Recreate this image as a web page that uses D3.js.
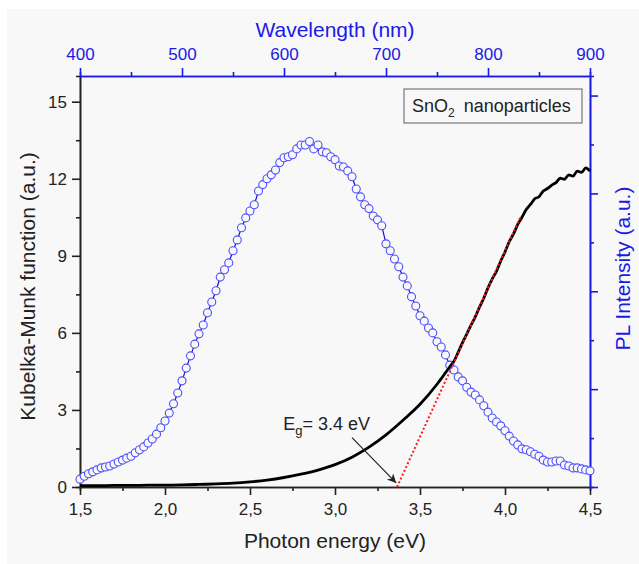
<!DOCTYPE html>
<html>
<head>
<meta charset="utf-8">
<script src="https://cdn.jsdelivr.net/npm/d3@7"></script>
<style>
  body { margin: 0; background: #fff; }
  svg { display: block; font-family: "Liberation Sans", Arial, sans-serif; }
</style>
</head>
<body>
<div id="chart"></div>
<script>
// Kubelka-Munk (absorption) curve, photon energy in eV vs KM value
const kmEnergy = [1.5, 1.6, 1.7, 1.8, 1.9, 2.0, 2.1, 2.2, 2.3, 2.4, 2.5, 2.6, 2.7, 2.8, 2.9, 3.0,
    3.1, 3.2, 3.3, 3.4, 3.5, 3.6, 3.625, 3.65, 3.675, 3.7, 3.725, 3.75, 3.775, 3.8, 3.825, 3.85,
    3.875, 3.9, 3.925, 3.95, 3.975, 4.0, 4.025, 4.05, 4.075, 4.1, 4.125, 4.15, 4.175, 4.2, 4.225,
    4.25, 4.275, 4.3, 4.325, 4.35, 4.375, 4.4, 4.425, 4.45, 4.475, 4.5];
const kmValue = [0.05, 0.05, 0.06, 0.06, 0.07, 0.07, 0.08, 0.1, 0.12, 0.15, 0.2, 0.27, 0.37, 0.5,
    0.66, 0.87, 1.16, 1.55, 2.03, 2.6, 3.22, 4.0, 4.22, 4.45, 4.68, 4.9, 5.25, 5.62, 5.95, 6.3, 6.62,
    7.0, 7.35, 7.75, 8.1, 8.4, 8.8, 9.15, 9.55, 9.85, 10.22, 10.5, 10.8, 11.0, 11.22, 11.3,
    11.52, 11.62, 11.75, 11.85, 12.02, 11.98, 12.15, 12.1, 12.3, 12.25, 12.42, 12.3];

// PL spectrum (open circles), photon energy in eV vs intensity (a.u.)
const plEnergy = [1.5, 1.525, 1.55, 1.575, 1.6, 1.625, 1.65, 1.675, 1.7, 1.725, 1.75, 1.775, 1.8,
    1.825, 1.85, 1.875, 1.9, 1.925, 1.95, 1.975, 2.0, 2.025, 2.05, 2.075, 2.1, 2.125, 2.15, 2.175,
    2.2, 2.225, 2.25, 2.275, 2.3, 2.325, 2.35, 2.375, 2.4, 2.425, 2.45, 2.475, 2.5, 2.525, 2.55,
    2.575, 2.6, 2.625, 2.65, 2.675, 2.7, 2.725, 2.75, 2.775, 2.8, 2.825, 2.85, 2.875, 2.9, 2.925,
    2.95, 2.975, 3.0, 3.025, 3.05, 3.075, 3.1, 3.125, 3.15, 3.175, 3.2, 3.225, 3.25, 3.275, 3.3,
    3.325, 3.35, 3.375, 3.4, 3.425, 3.45, 3.475, 3.5, 3.525, 3.55, 3.575, 3.6, 3.625, 3.65, 3.675,
    3.7, 3.725, 3.75, 3.775, 3.8, 3.825, 3.85, 3.875, 3.9, 3.925, 3.95, 3.975, 4.0, 4.025, 4.05,
    4.075, 4.1, 4.125, 4.15, 4.175, 4.2, 4.225, 4.25, 4.275, 4.3, 4.325, 4.35, 4.375, 4.4, 4.425,
    4.45, 4.475, 4.5];
const plValue = [0.16, 0.22, 0.27, 0.31, 0.35, 0.39, 0.41, 0.43, 0.47, 0.51, 0.55, 0.59, 0.63,
    0.70, 0.76, 0.82, 0.90, 0.98, 1.08, 1.21, 1.35, 1.51, 1.70, 1.92, 2.17, 2.43, 2.68, 2.92,
    3.13, 3.31, 3.56, 3.78, 4.01, 4.29, 4.44, 4.58, 4.83, 5.05, 5.30, 5.50, 5.64, 5.77, 6.05,
    6.18, 6.30, 6.38, 6.48, 6.63, 6.73, 6.75, 6.79, 6.91, 6.99, 6.99, 7.06, 6.91, 6.99, 6.85,
    6.83, 6.75, 6.69, 6.56, 6.54, 6.46, 6.34, 6.09, 5.93, 5.77, 5.69, 5.54, 5.46, 5.34, 4.97,
    4.83, 4.66, 4.50, 4.29, 4.11, 3.89, 3.70, 3.50, 3.39, 3.25, 3.15, 2.97, 2.86, 2.70, 2.49,
    2.39, 2.25, 2.17, 2.04, 1.94, 1.88, 1.78, 1.66, 1.53, 1.41, 1.33, 1.25, 1.15, 1.04, 0.94,
    0.86, 0.78, 0.76, 0.72, 0.67, 0.63, 0.55, 0.51, 0.51, 0.53, 0.53, 0.45, 0.43, 0.39, 0.39,
    0.37, 0.35, 0.33];

// Tauc-like linear fit, extrapolated to the energy axis
const fitEnergy = [3.365, 4.09];
const fitValue = [0, 10.5];

// band gap annotation: arrow from text to the intercept
const arrowEnergy = [3.10, 3.36];
const arrowValue = [1.92, 0.16];

const xTicks = [1.5, 2.0, 2.5, 3.0, 3.5, 4.0, 4.5];
const yTicks = [0, 3, 6, 9, 12, 15];
const wlTicks = [400, 500, 600, 700, 800, 900];

const W = 639, H = 564;
const margins = { top: 76, right: 49, bottom: 77, left: 80 };
const width = W - margins.left - margins.right;   // 510
const height = H - margins.top - margins.bottom;  // 411

const BLUE = "#1a1ae6";

const svg = d3.select("#chart").append("svg")
    .attr("width", W)
    .attr("height", H);

svg.append("rect")
    .attr("x", 7).attr("y", 9)
    .attr("width", W - 7).attr("height", H - 9)
    .attr("fill", "#f8f8f8");

const g = svg.append("g")
    .attr("transform", `translate(${margins.left}, ${margins.top})`);

const x = d3.scaleLinear().domain([1.5, 4.5]).range([0, width]);
const y = d3.scaleLinear().domain([0, 16]).range([height, 0]);
const xWl = d3.scaleLinear().domain([400, 900]).range([0, width]);
const yPl = d3.scaleLinear().domain([0, 8.4]).range([height, 0]);

const fmtComma = d => d3.format(".1f")(d).replace(".", ",");

// minor ticks first (short), then major ticks with labels
function styleAxis(sel, color) {
    sel.select(".domain").attr("stroke", color).attr("stroke-width", 1.6);
    sel.selectAll(".tick line").attr("stroke", color).attr("stroke-width", 1.6);
    sel.selectAll(".tick text").attr("fill", color).attr("font-size", 17);
}

// bottom axis - photon energy
g.append("g")
    .attr("transform", `translate(0, ${height})`)
    .call(d3.axisBottom(x).tickValues(d3.range(1.75, 4.5, 0.5)).tickSize(4).tickFormat(""))
    .call(s => styleAxis(s, "#222"));
g.append("g")
    .attr("transform", `translate(0, ${height})`)
    .call(d3.axisBottom(x).tickValues(xTicks).tickSize(8).tickSizeOuter(0).tickPadding(8).tickFormat(fmtComma))
    .call(s => styleAxis(s, "#222"));

// left axis - Kubelka-Munk
g.append("g")
    .call(d3.axisLeft(y).tickValues(d3.range(1.5, 16, 3)).tickSize(4).tickFormat(""))
    .call(s => styleAxis(s, "#222"));
g.append("g")
    .call(d3.axisLeft(y).tickValues(yTicks).tickSize(8).tickSizeOuter(0).tickPadding(5))
    .call(s => styleAxis(s, "#222"));

// top axis - wavelength
g.append("g")
    .call(d3.axisTop(xWl).tickValues(d3.range(450, 900, 100)).tickSize(4).tickFormat(""))
    .call(s => styleAxis(s, BLUE));
g.append("g")
    .call(d3.axisTop(xWl).tickValues(wlTicks).tickSize(8).tickSizeOuter(0).tickPadding(8))
    .call(s => styleAxis(s, BLUE));

// right axis - PL intensity, no labels
g.append("g")
    .attr("transform", `translate(${width}, 0)`)
    .call(d3.axisRight(yPl).tickValues([1, 3, 5, 7]).tickSize(4).tickFormat(""))
    .call(s => styleAxis(s, BLUE));
g.append("g")
    .attr("transform", `translate(${width}, 0)`)
    .call(d3.axisRight(yPl).tickValues([0, 2, 4, 6, 8]).tickSize(8).tickSizeOuter(0).tickFormat(""))
    .call(s => styleAxis(s, BLUE));

// axis titles
svg.append("text")
    .attr("x", margins.left + width / 2).attr("y", 548)
    .attr("text-anchor", "middle").attr("font-size", 21).attr("fill", "#222")
    .text("Photon energy (eV)");
svg.append("text")
    .attr("x", margins.left + width / 2).attr("y", 37)
    .attr("text-anchor", "middle").attr("font-size", 21).attr("fill", BLUE)
    .text("Wavelength (nm)");
svg.append("text")
    .attr("transform", `translate(35, ${margins.top + height / 2 + 5}) rotate(-90)`)
    .attr("text-anchor", "middle").attr("font-size", 21).attr("fill", "#222")
    .text("Kubelka-Munk function (a.u.)");
svg.append("text")
    .attr("transform", `translate(630, ${margins.top + height / 2 - 13}) rotate(-90)`)
    .attr("text-anchor", "middle").attr("font-size", 21).attr("fill", BLUE)
    .text("PL Intensity (a.u.)");

// PL spectrum
const plData = plEnergy.map((e, i) => ({ e, v: plValue[i] }));
g.append("path")
    .datum(plData)
    .attr("fill", "none")
    .attr("stroke", "#1010cc")
    .attr("stroke-width", 1.2)
    .attr("d", d3.line().x(d => x(d.e)).y(d => yPl(d.v)));
g.append("g").selectAll("circle")
    .data(plData)
    .enter().append("circle")
    .attr("cx", d => x(d.e))
    .attr("cy", d => yPl(d.v))
    .attr("r", 4)
    .attr("fill", "#f8f8f8")
    .attr("stroke", "#4d4dff")
    .attr("stroke-width", 1.1);

// KM curve
const kmData = kmEnergy.map((e, i) => ({ e, v: kmValue[i] }));
g.append("path")
    .datum(kmData)
    .attr("fill", "none")
    .attr("stroke", "#000")
    .attr("stroke-width", 2.8)
    .attr("stroke-linejoin", "round")
    .attr("d", d3.line().x(d => x(d.e)).y(d => y(d.v)).curve(d3.curveMonotoneX));

// linear fit extrapolation
g.append("line")
    .attr("x1", x(fitEnergy[0])).attr("y1", y(fitValue[0]))
    .attr("x2", x(fitEnergy[1])).attr("y2", y(fitValue[1]))
    .attr("stroke", "#ff1a1a")
    .attr("stroke-width", 2)
    .attr("stroke-dasharray", "2,2.2");

// arrow
svg.append("defs").append("marker")
    .attr("id", "arrowhead")
    .attr("viewBox", "0 0 10 10")
    .attr("refX", 10).attr("refY", 5)
    .attr("markerWidth", 11).attr("markerHeight", 9)
    .attr("markerUnits", "userSpaceOnUse")
    .attr("orient", "auto")
    .append("path")
    .attr("d", "M0,0 L10,5 L0,10 L3,5 Z")
    .attr("fill", "#222");
g.append("line")
    .attr("x1", x(arrowEnergy[0])).attr("y1", y(arrowValue[0]))
    .attr("x2", x(arrowEnergy[1])).attr("y2", y(arrowValue[1]))
    .attr("stroke", "#222")
    .attr("stroke-width", 1.2)
    .attr("marker-end", "url(#arrowhead)");

const eg = g.append("text")
    .attr("x", x(2.695)).attr("y", y(2.22))
    .attr("font-size", 18).attr("fill", "#222");
eg.append("tspan").text("E");
eg.append("tspan").attr("font-size", 13).attr("dy", 5).text("g");
eg.append("tspan").attr("dy", -5).text("= 3.4 eV");

// sample label box
const box = g.append("g").attr("transform", `translate(${width - 186}, 13)`);
box.append("rect")
    .attr("width", 178).attr("height", 34)
    .attr("fill", "#f8f8f8")
    .attr("stroke", "#777")
    .attr("stroke-width", 1.2);
const lbl = box.append("text")
    .attr("x", 8).attr("y", 23)
    .attr("font-size", 18).attr("fill", "#222");
lbl.append("tspan").text("SnO");
lbl.append("tspan").attr("font-size", 12).attr("dy", 5).text("2");
lbl.append("tspan").attr("dy", -5).attr("dx", 9).text("nanoparticles");
</script>
</body>
</html>
